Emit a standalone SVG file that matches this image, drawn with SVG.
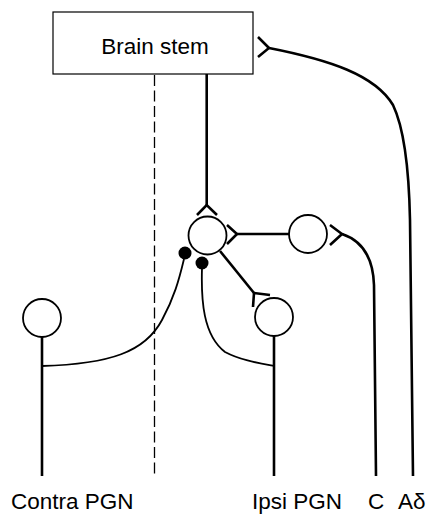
<svg xmlns="http://www.w3.org/2000/svg" width="432" height="515" viewBox="0 0 432 515">
<style>
.axon{fill:none;stroke:#000;stroke-width:2.6;stroke-linecap:butt}
.thin{fill:none;stroke:#000;stroke-width:1.8}
.cell{fill:#fff;stroke:#000;stroke-width:1.8}
.syn{fill:none;stroke:#000;stroke-width:2.6}
.dot{fill:#000}
.mid{fill:none;stroke:#000;stroke-width:1.3;stroke-dasharray:11 4.5}
text{font-family:"Liberation Sans",Arial,Helvetica,sans-serif;font-size:22.5px;fill:#000}
</style>
<rect width="432" height="515" fill="#fff"/>
<line id="midline" class="mid" x1="154.5" y1="75" x2="154.5" y2="478"/>
<g id="connectors">
  <line class="axon" x1="206.7" y1="74" x2="206.7" y2="205"/>
  <path class="syn" d="M197,215 L206.7,205 L217,215"/>
  <line class="axon" x1="237" y1="234" x2="289" y2="234"/>
  <path class="syn" d="M227,225 L237,234 L227,244"/>
  <path class="axon" d="M342,234 C360,240 373,255 374,285 L376,476"/>
  <path class="syn" d="M330,225 L342,234 L330,245"/>
  <path class="axon" d="M269,48 C330,60 375,75 393,105 C405,130 409,170 410,220 L413,476"/>
  <path class="syn" d="M258,37 L269,48 L258,57"/>
  <line class="axon" x1="220" y1="251" x2="254" y2="293"/>
  <path class="syn" d="M253,307 L254,293 L270,295"/>
  <line class="axon" x1="42" y1="337" x2="42" y2="476"/>
  <line class="axon" x1="274" y1="336" x2="274" y2="476"/>
  <path class="thin" d="M42,366 C110,364 145,352 162,320 C174,298 179,280 184,259"/>
  <path class="thin" d="M202,268 C201,300 203,335 225,352 C240,360 258,363 274,366"/>
  <circle class="dot" cx="185" cy="253" r="6.5"/>
  <circle class="dot" cx="202" cy="263" r="6.5"/>
</g>
<g id="brainstem">
  <rect x="53" y="12" width="200" height="62" fill="#fff" stroke="#000" stroke-width="1.2"/>
  <text x="155" y="54" text-anchor="middle">Brain stem</text>
</g>
<g id="central"><circle class="cell" cx="207.5" cy="235.5" r="19"/></g>
<g id="relay"><circle class="cell" cx="308" cy="234" r="19"/></g>
<g id="ipsi"><circle class="cell" cx="274" cy="317" r="19"/></g>
<g id="contra"><circle class="cell" cx="42" cy="318" r="19"/></g>
<g id="labels">
  <text x="11" y="509">Contra PGN</text>
  <text x="252" y="509">Ipsi PGN</text>
  <text x="368" y="509">C</text>
  <text x="398" y="509">Aδ</text>
</g>
</svg>
